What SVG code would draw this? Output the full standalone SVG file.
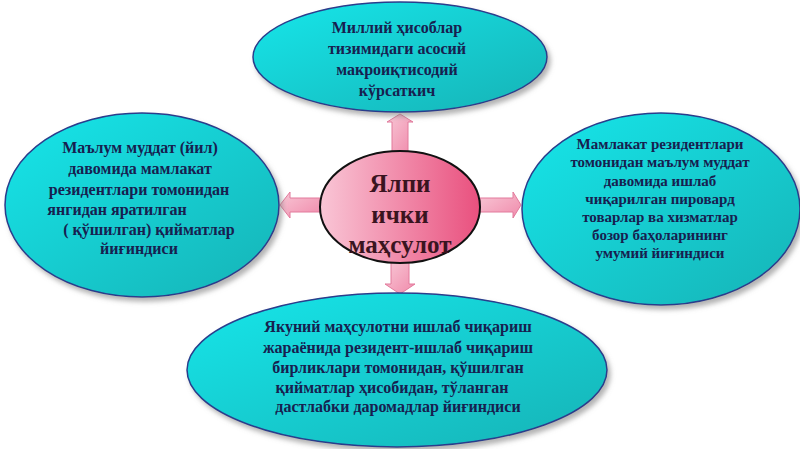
<svg xmlns="http://www.w3.org/2000/svg" width="800" height="449" viewBox="0 0 800 449">
<defs>
<linearGradient id="cyan" x1="0" y1="0" x2="1" y2="1">
<stop offset="0" stop-color="#12e6ea"/>
<stop offset="1" stop-color="#19b3b6"/>
</linearGradient>
<linearGradient id="pink" x1="0" y1="0" x2="1" y2="0">
<stop offset="0" stop-color="#f9c6d6"/>
<stop offset="1" stop-color="#e9507e"/>
</linearGradient>
<linearGradient id="arr" x1="0" y1="0" x2="1" y2="1">
<stop offset="0" stop-color="#f8c8d6"/>
<stop offset="1" stop-color="#f08aab"/>
</linearGradient>
<filter id="sh" x="-10%" y="-10%" width="130%" height="130%">
<feGaussianBlur in="SourceAlpha" stdDeviation="2.5"/>
<feOffset dx="3" dy="4" result="b"/>
<feFlood flood-color="#808080" flood-opacity="0.6"/>
<feComposite in2="b" operator="in"/>
<feMerge><feMergeNode/><feMergeNode in="SourceGraphic"/></feMerge>
</filter>
</defs>
<style>
.outer{fill:url(#cyan);stroke:#2a3d8c;stroke-width:1.5;filter:url(#sh)}
.core{fill:url(#pink);stroke:#111;stroke-width:2}
.arrow{fill:url(#arr);stroke:#e27a9c;stroke-width:1}
.t{font-family:"Liberation Serif","Times New Roman",serif;font-weight:bold;font-size:16px;fill:#17204f;text-anchor:middle}
.tr{font-size:15px}
.c{font-family:"Liberation Serif","Times New Roman",serif;font-weight:bold;font-size:25px;fill:#3a1420;text-anchor:middle}
</style>
<rect width="800" height="449" fill="#ffffff"/>
<g id="connectors">
<path class="arrow" d="M392,153 L392,122 L387,122 L400,114 L413,122 L408,122 L408,153 Z"/>
<path class="arrow" d="M320,198 L290,198 L290,192 L280,205 L290,218 L290,212 L320,212 Z"/>
<path class="arrow" d="M480,198 L513,198 L513,192 L521,205 L513,218 L513,212 L480,212 Z"/>
<path class="arrow" d="M391,262 L391,284 L385,284 L400,294 L415,284 L409,284 L409,262 Z"/>
</g>
<g id="node-top">
<ellipse class="outer" cx="400" cy="57" rx="147" ry="55"/>
<text class="t" x="397" y="33">Миллий ҳисоблар</text>
<text class="t" x="397" y="54">тизимидаги асосий</text>
<text class="t" x="397" y="75">макроиқтисодий</text>
<text class="t" x="397" y="96">кўрсаткич</text>
</g>
<g id="node-left">
<ellipse class="outer" cx="142" cy="205" rx="137" ry="92"/>
<text class="t" x="140" y="153">Маълум муддат (йил)</text>
<text class="t" x="140" y="174">давомида мамлакат</text>
<text class="t" x="139" y="195">резидентлари томонидан</text>
<text class="t" x="117" y="215">янгидан яратилган</text>
<text class="t" x="149" y="235">( қўшилган) қийматлар</text>
<text class="t" x="139" y="254">йиғиндиси</text>
</g>
<g id="node-right">
<ellipse class="outer" cx="661" cy="209" rx="139" ry="96"/>
<text class="t tr" x="660" y="149">Мамлакат резидентлари</text>
<text class="t tr" x="660" y="167">томонидан маълум муддат</text>
<text class="t tr" x="660" y="186">давомида ишлаб</text>
<text class="t tr" x="660" y="204">чиқарилган пировард</text>
<text class="t tr" x="660" y="222">товарлар ва хизматлар</text>
<text class="t tr" x="660" y="240">бозор баҳоларининг</text>
<text class="t tr" x="660" y="258">умумий йиғиндиси</text>
</g>
<g id="node-bottom">
<ellipse class="outer" cx="397" cy="370" rx="210" ry="77"/>
<text class="t" x="398" y="332">Якуний маҳсулотни ишлаб чиқариш</text>
<text class="t" x="398" y="353">жараёнида резидент-ишлаб чиқариш</text>
<text class="t" x="398" y="373">бирликлари томонидан, қўшилган</text>
<text class="t" x="392" y="393">қийматлар ҳисобидан, тўланган</text>
<text class="t" x="398" y="412">дастлабки даромадлар йиғиндиси</text>
</g>
<g id="node-center">
<ellipse class="core" cx="400" cy="207" rx="80" ry="56"/>
<text class="c" x="400" y="192">Ялпи</text>
<text class="c" x="400" y="223">ички</text>
<text class="c" x="400" y="253">маҳсулот</text>
</g>
</svg>
